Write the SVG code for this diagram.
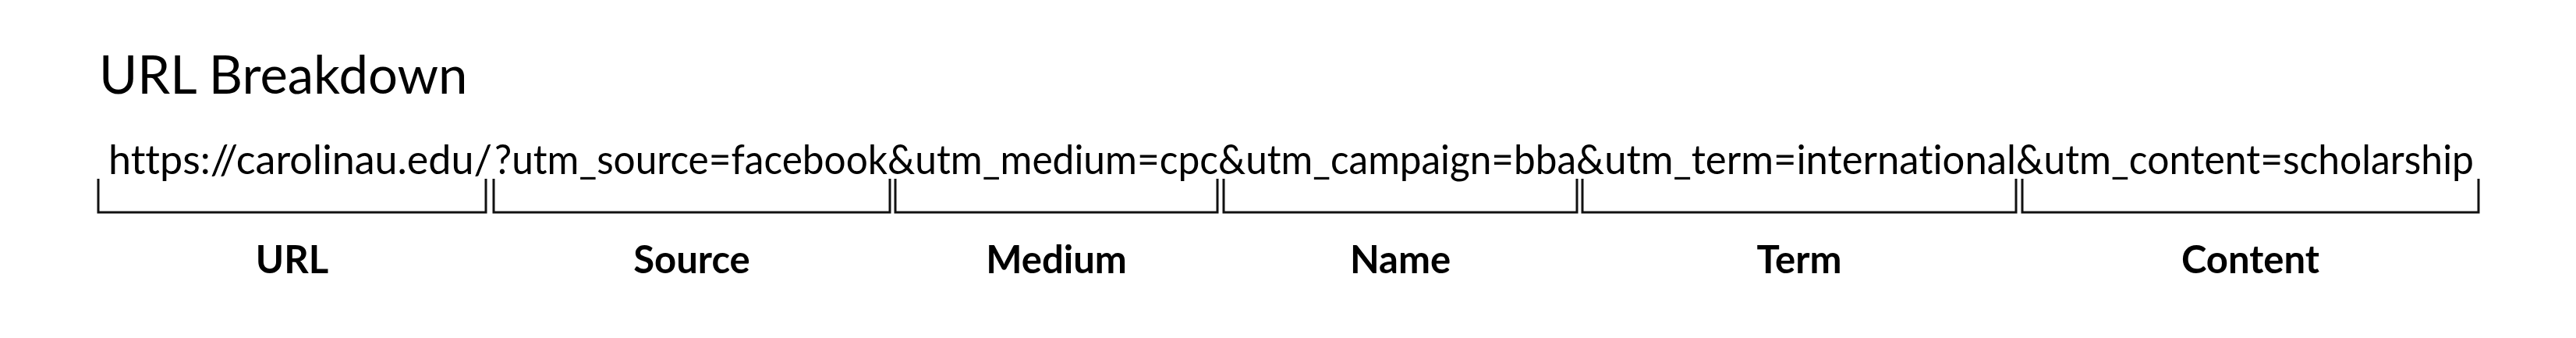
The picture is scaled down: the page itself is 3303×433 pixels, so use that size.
<svg xmlns="http://www.w3.org/2000/svg" width="3303" height="433" viewBox="0 0 3303 433">
<style>
.title{font-family:Lato,"Liberation Sans",sans-serif;font-size:67px;fill:#000}
.url{font-family:Lato,"Liberation Sans",sans-serif;font-size:52px;fill:#000;font-variant-ligatures:none}
.lbl{font-family:Lato,"Liberation Sans",sans-serif;font-size:49px;font-weight:bold;fill:#000;text-anchor:middle}
.br{fill:none;stroke:#111;stroke-width:3}
</style>
<rect width="3303" height="433" fill="#fff"/>
<g id="title"><text class="title" x="127" y="120">URL Breakdown</text></g>
<g id="url">
<text class="url" x="139" y="223" textLength="492" lengthAdjust="spacingAndGlyphs">https://carolinau.edu/</text>
<text class="url" x="634" y="223" textLength="504" lengthAdjust="spacingAndGlyphs">?utm_source=facebook</text>
<text class="url" x="1138" y="223" textLength="424" lengthAdjust="spacingAndGlyphs">&amp;utm_medium=cpc</text>
<text class="url" x="1562" y="223" textLength="459" lengthAdjust="spacingAndGlyphs">&amp;utm_campaign=bba</text>
<text class="url" x="2021" y="223" textLength="564" lengthAdjust="spacingAndGlyphs">&amp;utm_term=international</text>
<text class="url" x="2585" y="223" textLength="587" lengthAdjust="spacingAndGlyphs">&amp;utm_content=scholarship</text>
</g>
<g id="connectors">
<path class="br" d="M126 229V272H623V229"/>
<path class="br" d="M633 229V272H1141V229"/>
<path class="br" d="M1148 229V272H1561V229"/>
<path class="br" d="M1569 229V272H2022V229"/>
<path class="br" d="M2029 229V272H2585V229"/>
<path class="br" d="M2593 229V272H3178V229"/>
</g>
<g id="n-url"><text class="lbl" x="374.5" y="350">URL</text></g>
<g id="n-source"><text class="lbl" x="887" y="350">Source</text></g>
<g id="n-medium"><text class="lbl" x="1354.5" y="350">Medium</text></g>
<g id="n-name"><text class="lbl" x="1795.5" y="350">Name</text></g>
<g id="n-term"><text class="lbl" x="2307" y="350">Term</text></g>
<g id="n-content"><text class="lbl" x="2885.5" y="350">Content</text></g>
</svg>
